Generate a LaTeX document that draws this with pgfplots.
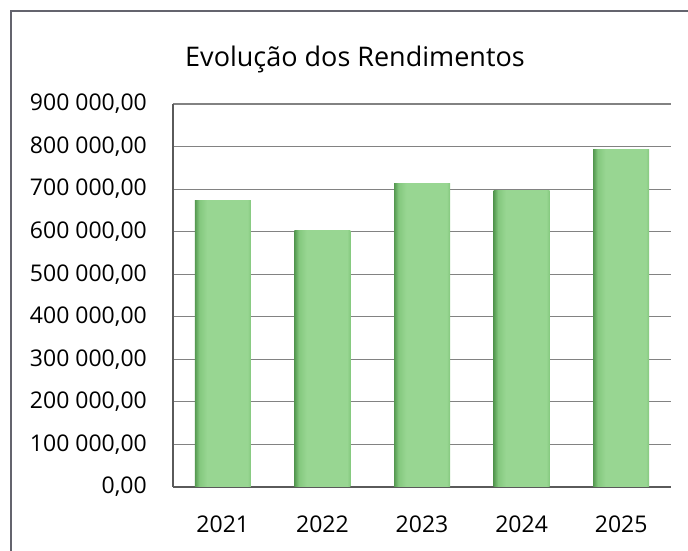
\documentclass[border=0pt]{standalone}
\usepackage{pgfplots}
\pgfplotsset{compat=1.18}
\usepackage{fontspec}
\setmainfont{Open Sans}
\definecolor{barlight}{RGB}{152,214,146}
\definecolor{barmid}{RGB}{132,200,126}
\definecolor{bardark}{RGB}{84,152,80}
\definecolor{gridgray}{RGB}{130,130,130}
\definecolor{axgray}{RGB}{90,90,90}
\definecolor{framegray}{RGB}{100,100,110}
\pgfdeclarehorizontalshading{barshade}{100bp}{color(0bp)=(bardark); color(25bp)=(bardark); color(29bp)=(barmid); color(36bp)=(barlight); color(72bp)=(barlight); color(75bp)=(barmid); color(100bp)=(barmid)}
\pgfplotsset{barstyle/.style={ybar, bar width=56bp, bar shift=0pt, draw=none, mark=none, shading=barshade}}
\begin{document}
\begin{tikzpicture}[x=1bp,y=1bp]
\useasboundingbox (-173,-64) rectangle (515,487);
\draw[framegray, line width=1.5bp] (-162,-70) -- (-162,476) -- (530,476);
\begin{axis}[
  scale only axis,
  width=498bp, height=383bp,
  xmin=-0.5, xmax=4.5,
  ymin=0, ymax=900000,
  xtick={0,1,2,3,4},
  xticklabels={2021,2022,2023,2024,2025},
  ytick={0,100000,200000,300000,400000,500000,600000,700000,800000,900000},
  yticklabels={{0,00},{100 000,00},{200 000,00},{300 000,00},{400 000,00},{500 000,00},{600 000,00},{700 000,00},{800 000,00},{900 000,00}},
  scaled y ticks=false,
  major tick length=0pt,
  axis x line*=bottom,
  axis y line*=left,
  axis line style={axgray, line width=1.3bp, -},
  ymajorgrids,
  major grid style={gridgray, line width=1.2bp},
  tick label style={font=\fontsize{23bp}{26bp}\selectfont, inner sep=0pt, text=black},
  yticklabel style={anchor=east, xshift=-26bp},
  xticklabel style={anchor=base, yshift=-46bp},
  clip=false,
]
\addplot[barstyle] coordinates {(0,673000)};
\addplot[barstyle] coordinates {(1,603000)};
\addplot[barstyle] coordinates {(2,713000)};
\addplot[barstyle] coordinates {(3,696000)};
\addplot[barstyle] coordinates {(4,792000)};
\end{axis}
\node[anchor=base, inner sep=0pt, font=\fontsize{27bp}{30bp}\selectfont] at (182,420) {Evolução dos Rendimentos};
\end{tikzpicture}
\end{document}
